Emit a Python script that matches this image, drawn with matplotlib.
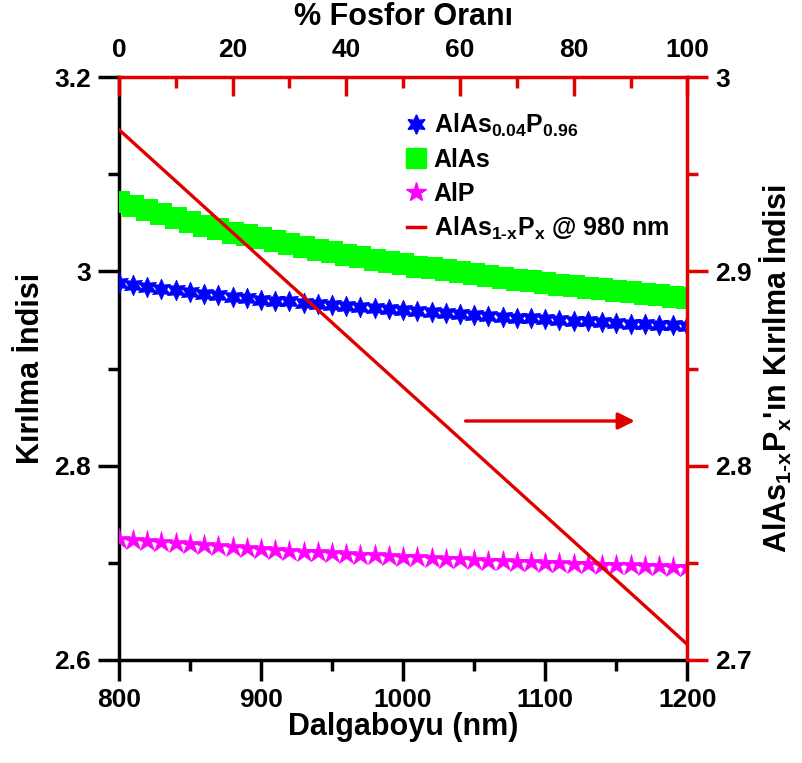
import numpy as np
import matplotlib
matplotlib.use("Agg")
import matplotlib.pyplot as plt
from matplotlib.lines import Line2D

plt.rcParams['font.family'] = ['Liberation Sans', 'DejaVu Sans']
plt.rcParams['font.weight'] = 'bold'
plt.rcParams['axes.labelweight'] = 'bold'
plt.rcParams['mathtext.fontset'] = 'custom'
plt.rcParams['mathtext.rm'] = 'Liberation Sans:bold'
plt.rcParams['mathtext.it'] = 'Liberation Sans:bold'
plt.rcParams['mathtext.bf'] = 'Liberation Sans:bold'
plt.rcParams['mathtext.default'] = 'rm'

# %% data
wavelength = list(range(800, 1201, 10))

n_alas = [3.071, 3.067, 3.063, 3.059, 3.055, 3.051, 3.047, 3.044, 3.040, 3.037,
          3.034, 3.031, 3.028, 3.025, 3.022, 3.020, 3.017, 3.015, 3.012, 3.010,
          3.008, 3.005, 3.003, 3.001, 2.999, 2.997, 2.995, 2.993, 2.991, 2.990,
          2.988, 2.986, 2.985, 2.983, 2.982, 2.980, 2.979, 2.977, 2.976, 2.974,
          2.973]

n_alasp = [2.988, 2.986, 2.984, 2.982, 2.981, 2.979, 2.977, 2.976, 2.974, 2.973,
           2.971, 2.970, 2.969, 2.967, 2.966, 2.965, 2.964, 2.963, 2.962, 2.961,
           2.960, 2.959, 2.958, 2.957, 2.956, 2.955, 2.954, 2.953, 2.952, 2.952,
           2.951, 2.950, 2.949, 2.949, 2.948, 2.947, 2.946, 2.946, 2.945, 2.945,
           2.944]

n_alp = [2.725, 2.724, 2.722, 2.721, 2.720, 2.719, 2.718, 2.717, 2.716, 2.715,
         2.714, 2.713, 2.712, 2.711, 2.711, 2.710, 2.709, 2.708, 2.708, 2.707,
         2.706, 2.706, 2.705, 2.704, 2.704, 2.703, 2.702, 2.702, 2.701, 2.701,
         2.700, 2.700, 2.699, 2.699, 2.698, 2.698, 2.698, 2.697, 2.697, 2.696,
         2.696]

fosfor = [0, 100]
n_980 = [2.973, 2.708]

RED = '#e00000'

# %% figure
fig = plt.figure(figsize=(8.03, 7.63), dpi=100)
rect = [0.148, 0.135, 0.708, 0.764]
ax = fig.add_axes(rect)

ax.plot(wavelength, n_alas, ls='none', marker='s', ms=16, color='#00ff00',
        mec='#00ff00', mew=0, zorder=3)
ax.plot(wavelength, n_alasp, ls='none', marker=(6, 1, 0), ms=15, color='#0000ff',
        mec='#0000ff', mew=0.5, zorder=4)
ax.plot(wavelength, n_alp, ls='none', marker='*', ms=16, color='#ff00ff',
        mec='#ff00ff', mew=0.5, zorder=4)

ax.set_xlim(800, 1200)
ax.set_ylim(2.6, 3.2)
ax.set_xticks([800, 900, 1000, 1100, 1200])
ax.set_xticks(np.arange(850, 1200, 100), minor=True)
ax.set_yticks([2.6, 2.8, 3.0, 3.2])
ax.set_yticklabels(['2.6', '2.8', '3', '3.2'])
ax.set_yticks([2.7, 2.9, 3.1], minor=True)
ax.tick_params(which='major', direction='out', length=15, width=2.5, labelsize=19, pad=5)
ax.tick_params(which='minor', direction='out', length=8, width=2.5)
ax.spines['top'].set_visible(False)
ax.spines['right'].set_visible(False)
for s in ['left', 'bottom']:
    ax.spines[s].set_linewidth(2.5)
ax.set_xlabel('Dalgaboyu (nm)', fontsize=22, labelpad=0)
ax.set_ylabel('Kırılma İndisi', fontsize=22, labelpad=6)

ax.annotate('', xy=(1165, 2.846), xytext=(1042, 2.846),
            arrowprops=dict(arrowstyle='-|>', color=RED, lw=2.4,
                            mutation_scale=25))

# red axes: top x (percent) and right y
ax2 = fig.add_axes(rect)
ax2.patch.set_visible(False)
ax2.plot(fosfor, n_980, color=RED, lw=2.4, zorder=5)
ax2.set_xlim(0, 100)
ax2.set_ylim(2.7, 3.0)
ax2.xaxis.tick_top()
ax2.xaxis.set_label_position('top')
ax2.yaxis.tick_right()
ax2.yaxis.set_label_position('right')
ax2.set_xticks([0, 20, 40, 60, 80, 100])
ax2.set_xticks([10, 30, 50, 70, 90], minor=True)
ax2.set_yticks([2.7, 2.8, 2.9, 3.0])
ax2.set_yticklabels(['2.7', '2.8', '2.9', '3'])
ax2.set_yticks([2.75, 2.85, 2.95], minor=True)
ax2.spines['left'].set_visible(False)
ax2.spines['bottom'].set_visible(False)
for s in ['top', 'right']:
    ax2.spines[s].set_linewidth(2.5)
    ax2.spines[s].set_color(RED)
ax2.tick_params(axis='y', which='major', direction='out', length=15, width=2.5,
                labelsize=19, color=RED, pad=5)
ax2.tick_params(axis='y', which='minor', direction='out', length=8, width=2.5, color=RED)
ax2.tick_params(axis='x', which='major', direction='in', length=14, width=2.5,
                labelsize=19, color=RED, pad=11)
ax2.tick_params(axis='x', which='minor', direction='in', length=8, width=2.5, color=RED)
ax2.set_xlabel('% Fosfor Oranı', fontsize=22, labelpad=9)
ax2.set_ylabel("AlAs$_{1\\text{-}x}$P$_x$'ın Kırılma İndisi", fontsize=22,
               rotation=90, labelpad=4)

handles = [
    Line2D([], [], ls='none', marker=(6, 1, 0), ms=14, color='#0000ff'),
    Line2D([], [], ls='none', marker='s', ms=15, color='#00ff00'),
    Line2D([], [], ls='none', marker='*', ms=15, color='#ff00ff'),
    Line2D([], [], color=RED, lw=2.5),
]
labels = ['AlAs$_{0.04}$P$_{0.96}$', 'AlAs', 'AlP', 'AlAs$_{1\\text{-}x}$P$_x$ @ 980 nm']
ax2.legend(handles, labels, loc='upper left', bbox_to_anchor=(0.49, 0.958),
           frameon=False, fontsize=18, handlelength=0.7, handletextpad=0.35,
           labelspacing=0.38, borderaxespad=0)

fig.savefig('out.png', dpi=100)
